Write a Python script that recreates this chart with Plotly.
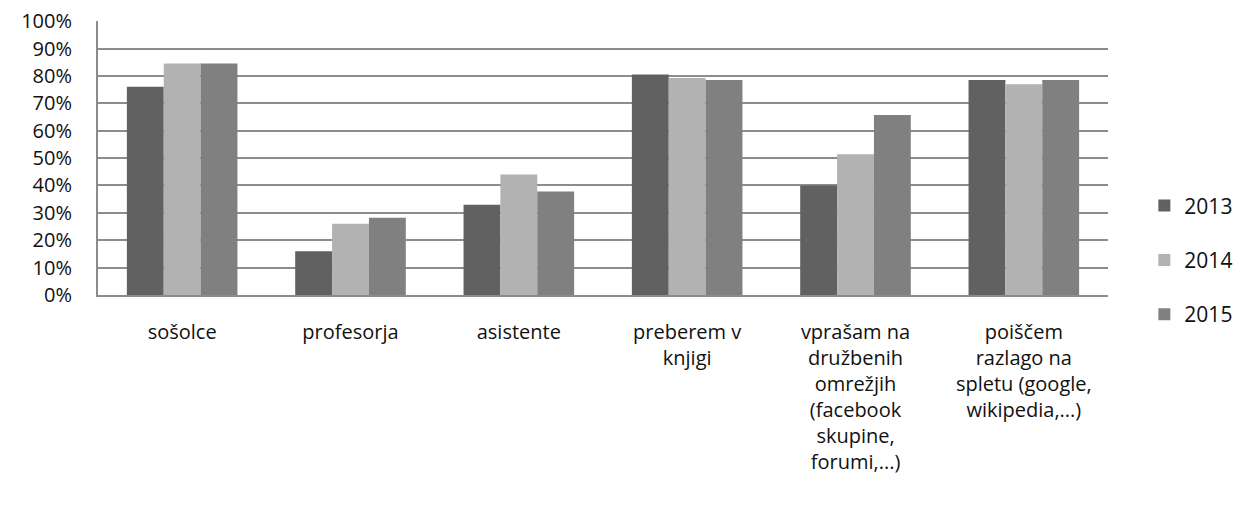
import plotly.graph_objects as go

categories = [
    "sošolce",
    "profesorja",
    "asistente",
    "preberem v<br>knjigi",
    "vprašam na<br>družbenih<br>omrežjih<br>(facebook<br>skupine,<br>forumi,...)",
    "poiščem<br>razlago na<br>spletu (google,<br>wikipedia,...)",
]
years = ["2013", "2014", "2015"]
v2013 = [0.76, 0.16, 0.33, 0.805, 0.40, 0.785]
v2014 = [0.845, 0.26, 0.44, 0.792, 0.514, 0.77]
v2015 = [0.845, 0.282, 0.378, 0.785, 0.657, 0.785]
colors = ["#616161", "#b2b2b2", "#808080"]
tick_vals = [0, 0.1, 0.2, 0.3, 0.4, 0.5, 0.6, 0.7, 0.8, 0.9, 1.0]
tick_text = ["0%", "10%", "20%", "30%", "40%", "50%", "60%", "70%", "80%", "90%", "100%"]

series = [v2013, v2014, v2015]
font_family = "Open Sans, DejaVu Sans, sans-serif"

fig = go.Figure()
for i, (name, vals) in enumerate(zip(years, series)):
    fig.add_trace(go.Bar(
        x=categories, y=vals, name=name,
        marker=dict(color=colors[i], line=dict(width=0)),
        legendgroup=name,
    ))

fig.update_layout(
    width=1247, height=510,
    margin=dict(l=90, r=147, t=13, b=223, autoexpand=False),
    barmode="group", bargap=0.343, bargroupgap=0,
    plot_bgcolor="white", paper_bgcolor="white",
    font=dict(family=font_family, size=20, color="#111111"),
    showlegend=True,
    legend=dict(
        x=1.036, xanchor="left", y=0.128, yanchor="middle",
        tracegroupgap=24, font=dict(size=21),
    ),
)
fig.update_yaxes(
    range=[0, 1.0005], tickmode="array", tickvals=tick_vals, ticktext=tick_text,
    showgrid=True, gridcolor="#8c8c8c", gridwidth=2,
    showline=True, linecolor="#8c8c8c", linewidth=2, automargin=False,
    ticks="", zeroline=False, ticklabelstandoff=20, ticklabeloverflow="allow",
)
fig.update_xaxes(
    showline=True, linecolor="#8c8c8c", linewidth=2, automargin=False,
    ticks="", ticklabelstandoff=18, tickangle=0,
)

fig.write_html("out.html")
